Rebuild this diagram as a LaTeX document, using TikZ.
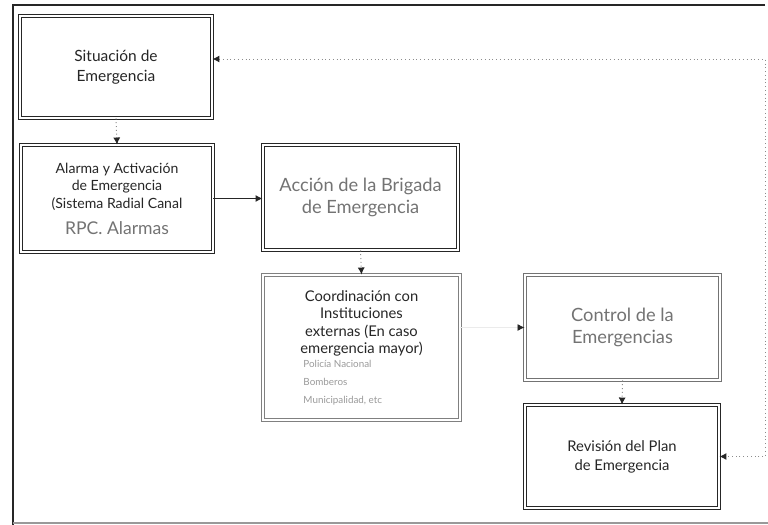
\documentclass[tikz,border=0pt]{standalone}
\usepackage{fontspec}
\setmainfont{Lato}
\usetikzlibrary{arrows.meta,calc}

\tikzset{
  caja/.style={draw=black!85, double, double distance=1.4pt, line width=.6pt, align=center, text=black!85, inner sep=2pt},
  cajagris/.style={caja, draw=black!55, text=black!55},
  flecha/.style={-{Latex[length=5pt,width=5pt]}, line width=.8pt, black!85},
  punteada/.style={-{Latex[length=5pt,width=5pt,color=black!85]}, dotted, black!45, line width=.7pt},
}

\begin{document}
\begin{tikzpicture}[x=0.025cm, y=-0.025cm]
            \useasboundingbox (0,0) rectangle (768,525);
            \draw[black!85, line width=.8pt] (765,5) -- (13,5) -- (13,525);
            \draw[black!40, line width=.8pt] (13,523) -- (768,523);
            \node[caja, minimum width=4.8cm, minimum height=2.55cm, font=\fontsize{11}{14}\selectfont] at (116,67) (sit) {Situación de\\Emergencia};
            \node[caja, minimum width=4.8cm, minimum height=2.675cm, font=\fontsize{10}{12.5}\selectfont] at (117,198.5) (alarma) {Alarma y Activación\\de Emergencia\\(Sistema Radial Canal\\[6pt]{\color{black!55}\fontsize{12.5}{14}\selectfont RPC. Alarmas}};
            \node[caja, text=black!55, minimum width=4.875cm, minimum height=2.625cm, font=\fontsize{13}{16}\selectfont] at (360.5,197.5) (accion) {Acción de la Brigada\\de Emergencia};
            \node[caja, draw=black!50, minimum width=4.925cm, minimum height=3.625cm, font=\fontsize{10.5}{12.5}\selectfont] at (361.5,347.5) (coord) {Coordinación con\\Instituciones\\externas (En caso\\emergencia mayor)\\[2pt]
              \parbox{2.9cm}{\raggedright\color{black!40}\fontsize{7}{12.5}\selectfont Policía Nacional\\Bomberos\\Municipalidad, etc}};
            \node[cajagris, minimum width=4.875cm, minimum height=2.625cm, font=\fontsize{13}{16}\selectfont] at (622.5,327.5) (control) {Control de la\\Emergencias};
            \node[caja, minimum width=4.85cm, minimum height=2.575cm, font=\fontsize{10.5}{13.5}\selectfont] at (622,456.5) (revision) {Revisión del Plan\\de Emergencia};
            \coordinate (tr) at (765,59);
            \coordinate (br) at (tr |- revision.east);
            \draw[punteada] (sit.south) -- (alarma.north);
            \draw[flecha] (alarma.east) -- (alarma.east -| accion.west);
            \draw[punteada] (accion.south) -- (coord.north);
            \draw[-{Latex[length=5pt,width=5pt,color=black!85]}, black!8, line width=.6pt] (coord.east |- control.west) -- (control.west);
            \draw[punteada] (control.south) -- (revision.north);
            \draw[punteada, {Latex[length=5pt,width=5pt,color=black!85]}-{Latex[length=5pt,width=5pt,color=black!85]}] (sit.east |- tr) -- (tr) -- (br) -- (revision.east);
        \end{tikzpicture}
\end{document}
